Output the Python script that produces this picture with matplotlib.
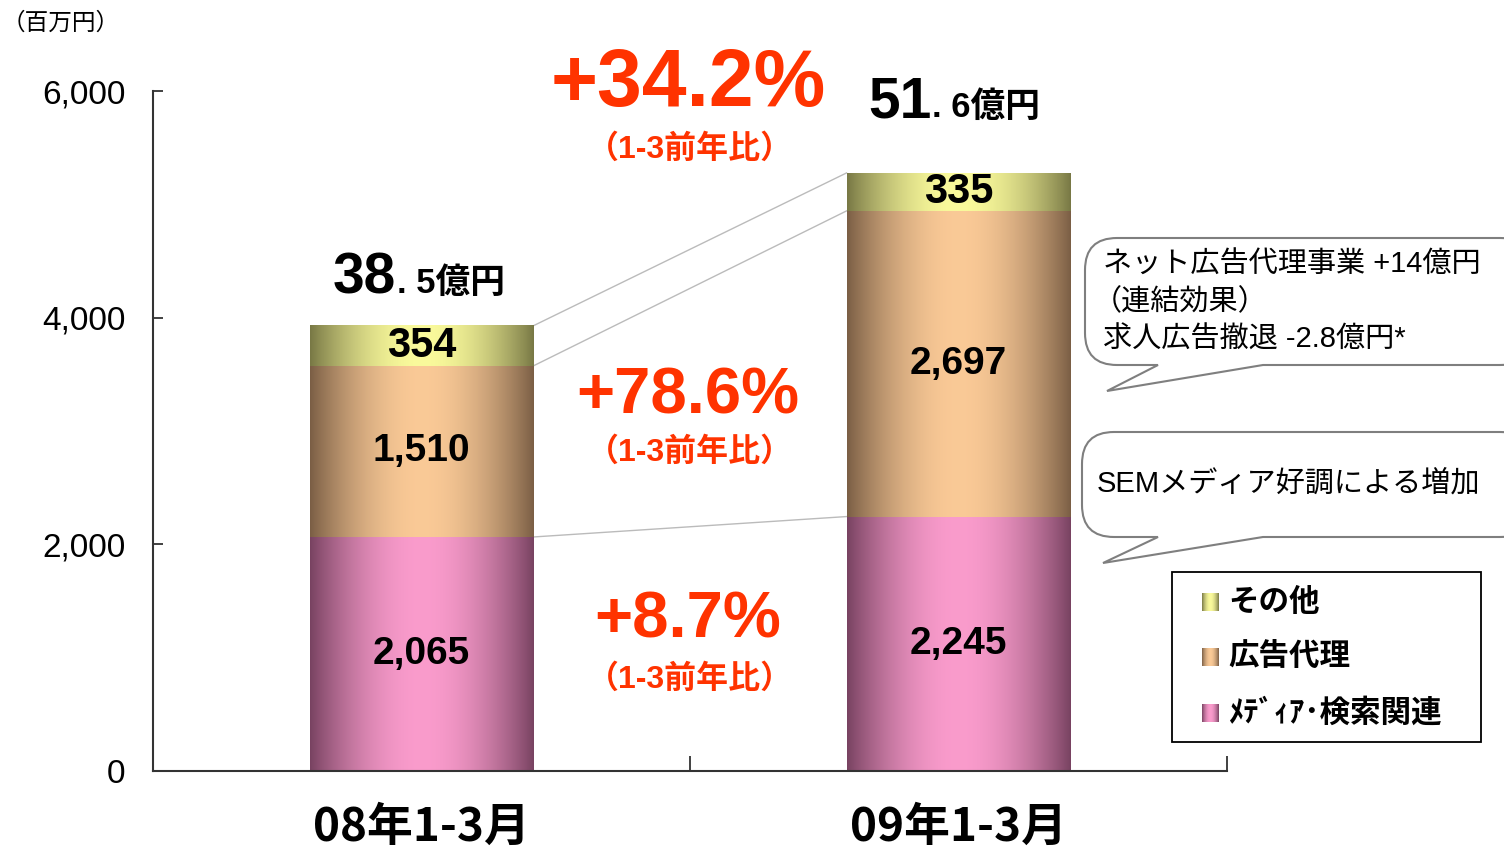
import numpy as np
import matplotlib
matplotlib.use("Agg")
import matplotlib.pyplot as plt
from matplotlib.path import Path
from matplotlib.patches import PathPatch, Rectangle
from matplotlib.transforms import Affine2D

# data (百万円)
periods = ["08年1-3月", "09年1-3月"]
series = ["メディア・検索関連", "広告代理", "その他"]
legend_labels = ["ﾒﾃﾞｨｱ･検索関連", "広告代理", "その他"]
media = [2065, 2245]
agency = [1510, 2697]
other = [354, 335]
totals_big = ["38", "51"]
totals_small = [". 5億円", ". 6億円"]
growth = ["+8.7%", "+78.6%", "+34.2%"]
growth_note = "（1-3前年比）"
yticks = [0, 2000, 4000, 6000]

W, H = 1504, 856
LATIN = ["Liberation Sans", "Noto Sans CJK JP"]
CJK = ["Noto Sans CJK JP", "Liberation Sans"]
RED = "#FF3300"

# gradient colours: (edge, centre)
grad_colors = [
    ((0.47, 0.26, 0.38), (0.98, 0.61, 0.80)),
    ((0.48, 0.37, 0.27), (0.98, 0.79, 0.59)),
    ((0.47, 0.47, 0.27), (0.98, 0.98, 0.61)),
]


def gradient(edge, centre, n=256):
    t = np.linspace(0, 1, n)
    w = np.sin(np.pi * t) ** 0.9
    edge = np.array(edge)
    centre = np.array(centre)
    rgb = edge[None, :] * (1 - w[:, None]) + centre[None, :] * w[:, None]
    return rgb[None, :, :]


def px(x, y):
    return x / W, 1 - y / H


fig = plt.figure(figsize=(W / 100, H / 100), dpi=100)
l, b = px(153, 771)
r, t = px(1227, 91)
ax = fig.add_axes([l, b, r - l, t - b])

x = np.arange(len(periods))
width = 0.417
stack = [media, agency, other]
bottom = np.zeros(len(periods))
for vals, (edge, centre) in zip(stack, grad_colors):
    bars = ax.bar(x, vals, width, bottom=bottom, facecolor="none", edgecolor="none")
    for bar in bars:
        x0, y0 = bar.get_x(), bar.get_y()
        ax.imshow(gradient(edge, centre), extent=[x0, x0 + bar.get_width(), y0, y0 + bar.get_height()],
                  aspect="auto", interpolation="bilinear", zorder=2)
    for xi, v, bt in zip(x, vals, bottom):
        fs = 30 if vals is other else 28
        ax.text(xi, bt + v / 2, f"{v:,}", ha="center", va="center", fontsize=fs,
                fontweight="bold", family=LATIN, zorder=3)
    bottom = bottom + np.array(vals)

# connector lines between segment tops
cum = np.cumsum(np.array(stack), axis=0)
for level in cum:
    ax.plot([x[0] + width / 2, x[1] - width / 2], level, color="#BBBBBB", lw=1, zorder=1)

ax.set_xlim(-0.5, 1.5)
ax.set_ylim(0, 6000)
ax.set_yticks(yticks)
ax.set_yticklabels([f"{v:,}" for v in yticks], family=LATIN, fontsize=24)
ax.set_xticks([0.5, 1.5])
ax.set_xticklabels([])
ax.set_xticks(x, minor=True)
ax.set_xticklabels(periods, minor=True, family=CJK, fontsize=33, fontweight="bold")
ax.tick_params(axis="y", direction="in", length=7, width=1.3, pad=20, color="#333333")
ax.tick_params(axis="x", which="major", direction="in", length=11, width=1.3, color="#333333")
ax.tick_params(axis="x", which="minor", length=0, pad=24)
for side in ["top", "right"]:
    ax.spines[side].set_visible(False)
for side in ["left", "bottom"]:
    ax.spines[side].set_color("#333333")
    ax.spines[side].set_linewidth(1.5)

# unit label
fig.text(*px(2, 23), "（百万円）", family=CJK, fontsize=17, va="center", ha="left")

# totals
for (bx, by), big, small in zip([(333, 293), (868, 117)], totals_big, totals_small):
    fig.text(*px(bx, by), big, family=LATIN, fontsize=41, fontweight="bold", va="baseline")
    fig.text(*px(bx + 64, by), small, family=LATIN, fontsize=25, fontweight="bold", va="baseline")

# growth annotations
for (gy, ny, fs), g in zip([(621, 679, 47), (396, 452, 47), (85, 149, 58)], growth):
    fig.text(*px(688, gy), g, family=LATIN, fontsize=fs, fontweight="bold", color=RED,
             ha="center", va="center")
    fig.text(*px(690, ny), growth_note, family=LATIN, fontsize=23, fontweight="bold", color=RED,
             ha="center", va="center")


# speech bubbles (pixel coordinates, y down)
def bubble(x0, y0, x1, y1, tail, rad=32):
    tb1, tip, tb2 = tail
    verts = [(x0 + rad, y0), (x1 - rad, y0), (x1, y0), (x1, y0 + rad), (x1, y1 - rad),
             (x1, y1), (x1 - rad, y1), (tb2, y1), tip, (tb1, y1), (x0 + rad, y1),
             (x0, y1), (x0, y1 - rad), (x0, y0 + rad), (x0, y0), (x0 + rad, y0), (0, 0)]
    codes = [Path.MOVETO, Path.LINETO, Path.CURVE3, Path.CURVE3, Path.LINETO,
             Path.CURVE3, Path.CURVE3, Path.LINETO, Path.LINETO, Path.LINETO, Path.LINETO,
             Path.CURVE3, Path.CURVE3, Path.LINETO, Path.CURVE3, Path.CURVE3, Path.CLOSEPOLY]
    tr = Affine2D().scale(1 / W, -1 / H).translate(0, 1) + fig.transFigure
    fig.add_artist(PathPatch(Path(verts, codes), transform=tr, facecolor="white",
                             edgecolor="#7F7F7F", lw=1.5))


bubble(1085, 238, 1532, 365, (1158, (1107, 391), 1263))
bubble(1082, 432, 1532, 537, (1158, (1103, 563), 1263))
for yy, s in zip([265, 302, 340], ["ネット広告代理事業 +14億円", "（連結効果）", "求人広告撤退 -2.8億円*"]):
    xx = 1093 if s.startswith("（") else 1103
    fig.text(*px(xx, yy), s, family=LATIN, fontsize=21, va="center", ha="left")
fig.text(*px(1097, 484), "SEMメディア好調による増加", family=LATIN, fontsize=21, va="center", ha="left")

# legend
lx0, ly0 = px(1172, 742)
lx1, ly1 = px(1481, 572)
fig.add_artist(Rectangle((lx0, ly0), lx1 - lx0, ly1 - ly0, transform=fig.transFigure,
                         facecolor="white", edgecolor="black", lw=1.3))
for yy, lab, (edge, centre) in zip([713, 657, 602], legend_labels, grad_colors):
    sx, sy = px(1202, yy + 9)
    sax = fig.add_axes([sx, sy, 17 / W, 18 / H])
    sax.set_zorder(5)
    sax.imshow(gradient(edge, centre), aspect="auto", interpolation="bilinear")
    sax.axis("off")
    fig.text(*px(1228, yy), lab, family=CJK, fontsize=22, fontweight="bold", va="center", ha="left")

fig.savefig("out.png", dpi=100)
